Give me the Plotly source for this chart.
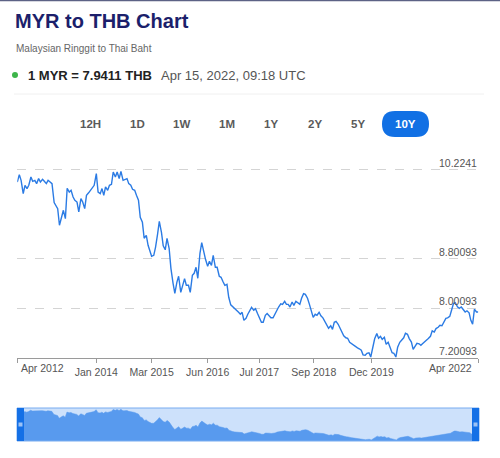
import pandas as pd
import plotly.graph_objects as go

W, H = 500, 458

# MYR -> THB, twice-monthly readings, Apr 2012 .. Apr 2022
start_date = "2012-04-15"
rates = [
    10.031, 10.150, 10.058, 9.844, 9.978, 9.925, 9.978, 10.111, 10.042, 10.058,
    10.005, 10.086, 10.031, 10.074, 10.042, 10.005, 10.058, 10.021, 10.005, 9.700,
    9.656, 9.603, 9.335, 9.496, 9.576, 9.442, 9.930, 9.870, 9.898, 9.790,
    9.737, 9.709, 9.549, 9.764, 9.709, 9.603, 9.817, 9.857, 9.898, 9.925,
    9.978, 10.166, 9.870, 9.844, 9.925, 9.817, 9.951, 9.898, 9.978, 9.994,
    10.192, 10.111, 10.192, 10.086, 10.203, 10.058, 10.074, 10.086, 10.005, 9.978,
    9.914, 9.898, 9.817, 9.737, 9.463, 9.383, 9.126, 9.174, 9.013, 8.933,
    8.836, 8.852, 8.981, 9.190, 9.399, 9.222, 9.005, 8.941, 9.126, 8.960,
    8.643, 8.402, 8.241, 8.418, 8.515, 8.257, 8.354, 8.478, 8.370, 8.370,
    8.257, 8.531, 8.563, 8.659, 8.483, 8.885, 9.057, 8.885, 8.788, 8.675,
    8.756, 8.691, 8.852, 8.659, 8.659, 8.515, 8.499, 8.426, 8.370, 8.386,
    8.177, 8.056, 8.032, 8.000, 7.968, 7.936, 7.904, 7.936, 7.807, 7.839,
    7.904, 7.968, 8.016, 7.968, 7.995, 7.915, 7.855, 7.775, 7.775, 7.888,
    7.915, 7.880, 7.847, 7.847, 7.904, 7.984, 8.021, 8.072, 8.064, 8.113,
    8.064, 8.064, 8.021, 8.101, 8.048, 8.113, 8.089, 8.064, 8.161, 8.236,
    8.225, 8.161, 8.072, 7.952, 7.855, 7.904, 7.888, 7.936, 7.880, 7.847,
    7.799, 7.743, 7.679, 7.719, 7.662, 7.775, 7.791, 7.743, 7.679, 7.619,
    7.558, 7.526, 7.518, 7.453, 7.432, 7.405, 7.378, 7.365, 7.349, 7.325,
    7.252, 7.244, 7.277, 7.285, 7.217, 7.357, 7.510, 7.593, 7.518, 7.550,
    7.502, 7.534, 7.421, 7.453, 7.373, 7.285, 7.277, 7.217, 7.373, 7.453,
    7.486, 7.526, 7.598, 7.582, 7.513, 7.458, 7.341, 7.405, 7.437, 7.429,
    7.405, 7.437, 7.458, 7.486, 7.513, 7.550, 7.638, 7.619, 7.674, 7.695,
    7.727, 7.719, 7.775, 7.839, 7.847, 7.871, 7.968, 8.081, 8.089, 8.024,
    8.000, 8.021, 7.984, 7.941, 7.960, 7.928, 7.807, 7.743, 7.984, 7.941, 7.9411,
]
dates = pd.date_range(start_date, periods=len(rates), freq="SMS")

ytick_vals = [7.20093, 8.00093, 8.80093, 10.2241]
xtick_vals = ["2012-04-15", "2014-01-01", "2015-03-15", "2016-06-01",
              "2017-07-15", "2018-09-20", "2019-12-20", "2022-04-15"]
xtick_text = ["Apr 2012", "Jan 2014", "Mar 2015", "Jun 2016",
              "Jul 2017", "Sep 2018", "Dec 2019", "Apr 2022"]
periods = ["12H", "1D", "1W", "1M", "1Y", "2Y", "5Y", "10Y"]
active_period = "10Y"

FONT = "Arial, Liberation Sans, sans-serif"
BLUE = "#2b7be4"


def px(x):
    return x / W


def py(y):
    return 1 - y / H


def pill(x0, y0, x1, y1, r):
    # rounded rectangle path in paper coords, pixel input
    return (f"M {px(x0 + r)},{py(y0)} L {px(x1 - r)},{py(y0)} "
            f"Q {px(x1)},{py(y0)} {px(x1)},{py(y0 + r)} L {px(x1)},{py(y1 - r)} "
            f"Q {px(x1)},{py(y1)} {px(x1 - r)},{py(y1)} L {px(x0 + r)},{py(y1)} "
            f"Q {px(x0)},{py(y1)} {px(x0)},{py(y1 - r)} L {px(x0)},{py(y0 + r)} "
            f"Q {px(x0)},{py(y0)} {px(x0 + r)},{py(y0)} Z")


fig = go.Figure()
fig.add_trace(go.Scatter(x=dates, y=rates, mode="lines", line=dict(color=BLUE, width=1.4),
                         xaxis="x", yaxis="y", hoverinfo="x+y"))
# navigator strip
fig.add_trace(go.Scatter(x=dates, y=rates, mode="lines", fill="tozeroy",
                         fillcolor="rgb(88,154,238)", line=dict(color="rgb(88,154,238)", width=0.5),
                         xaxis="x2", yaxis="y2", hoverinfo="skip"))

ann = []
ann.append(dict(text="<b>MYR to THB Chart</b>", x=px(13), y=py(21), xanchor="left", yanchor="middle",
                font=dict(size=20, color="#1c1f6b", family=FONT)))
ann.append(dict(text="Malaysian Ringgit to Thai Baht", x=px(14), y=py(48), xanchor="left", yanchor="middle",
                font=dict(size=10, color="#666666", family=FONT)))
ann.append(dict(text="<b>1 MYR = 7.9411 THB</b>", x=px(26), y=py(75), xanchor="left", yanchor="middle",
                font=dict(size=13, color="#222222", family=FONT)))
ann.append(dict(text="Apr 15, 2022, 09:18 UTC", x=px(159), y=py(75), xanchor="left", yanchor="middle",
                font=dict(size=13, color="#555555", family=FONT)))

btn_x = [90, 137, 181, 227, 271, 315, 358, 405]
for label, bx in zip(periods, btn_x):
    on = label == active_period
    ann.append(dict(text=f"<b>{label}</b>", x=px(bx), y=py(124), xanchor="center", yanchor="middle",
                    font=dict(size=11.5, color="white" if on else "#5a5a5a", family=FONT)))

for v in ytick_vals:
    ann.append(dict(text=f"{v:g}", x=px(479), y=v, xref="paper", yref="y", xanchor="right",
                    yanchor="bottom", yshift=-1, font=dict(size=10.5, color="#555555", family=FONT)))

ann.append(dict(text=xtick_text[0], x=xtick_vals[0], y=py(368), xref="x", yref="paper",
                xanchor="left", yanchor="middle", xshift=2, font=dict(size=10.5, color="#555555", family=FONT)))
ann.append(dict(text=xtick_text[-1], x=xtick_vals[-1], y=py(368), xref="x", yref="paper",
                xanchor="right", yanchor="middle", xshift=-4, font=dict(size=10.5, color="#555555", family=FONT)))

for a in ann:
    a.setdefault("xref", "paper")
    a.setdefault("yref", "paper")
    a["showarrow"] = False

shapes = [
    dict(type="line", x0=0, x1=1, y0=py(0.6), y1=py(0.6), line=dict(color="#5d6285", width=1.2)),
    dict(type="circle", x0=px(12), x1=px(18), y0=py(72), y1=py(78), fillcolor="#3db54a", line=dict(width=0)),
    dict(type="line", x0=px(14), x1=px(484), y0=py(94), y1=py(94), line=dict(color="#f0f0f0", width=1)),
    dict(type="path", path=pill(382, 111, 429, 137, 13), fillcolor="#1170e4", line=dict(width=0)),
    # navigator frame and handles
    dict(type="rect", x0=px(17), x1=px(479), y0=py(441), y1=py(408), fillcolor="rgb(205,225,251)",
         line=dict(width=0), layer="below"),
    dict(type="rect", x0=px(17), x1=px(479), y0=py(441), y1=py(408), fillcolor="rgba(0,0,0,0)",
         line=dict(color="rgb(120,172,240)", width=1)),
    dict(type="rect", x0=px(17), x1=px(24), y0=py(441), y1=py(408), fillcolor="#1470e6", line=dict(width=0)),
    dict(type="rect", x0=px(472), x1=px(479), y0=py(441), y1=py(408), fillcolor="#1470e6", line=dict(width=0)),
    dict(type="rect", x0=px(18.5), x1=px(22.5), y0=py(426.5), y1=py(422.5), fillcolor="#9cc2f5", line=dict(width=0)),
    dict(type="rect", x0=px(473.5), x1=px(477.5), y0=py(426.5), y1=py(422.5), fillcolor="#9cc2f5", line=dict(width=0)),
]
for s in shapes:
    s["xref"] = "paper"
    s["yref"] = "paper"

fig.update_layout(
    width=W, height=H,
    margin=dict(l=0, r=0, t=0, b=0),
    paper_bgcolor="white", plot_bgcolor="rgba(0,0,0,0)",
    showlegend=False,
    font=dict(family=FONT),
    annotations=ann,
    shapes=shapes,
    xaxis=dict(domain=[px(17.3), px(478.3)], range=[dates[0], dates[-1]], type="date",
               tickvals=xtick_vals, ticktext=[""] + xtick_text[1:-1] + [""],
               ticks="outside", ticklen=4, tickcolor="#9a9a9a", showline=True, linecolor="#9a9a9a",
               showgrid=False, zeroline=False, tickfont=dict(size=10.5, color="#555555", family=FONT),
               anchor="y", fixedrange=True),
    yaxis=dict(domain=[py(358), py(160)], range=[7.20093, 10.3848], tickvals=ytick_vals[1:],
               showticklabels=False, showgrid=True, gridcolor="#d4d4d4", griddash="dash", gridwidth=1,
               zeroline=False, showline=False, anchor="x", fixedrange=True),
    xaxis2=dict(domain=[px(17), px(479)], range=[dates[0], dates[-1]], type="date",
                visible=False, anchor="y2", fixedrange=True),
    yaxis2=dict(domain=[py(441), py(408)], range=[7.12, 10.33], visible=False, anchor="x2", fixedrange=True),
)

fig.write_html("out.html", config={"displayModeBar": False},
               post_script="document.body.style.margin='0';")
